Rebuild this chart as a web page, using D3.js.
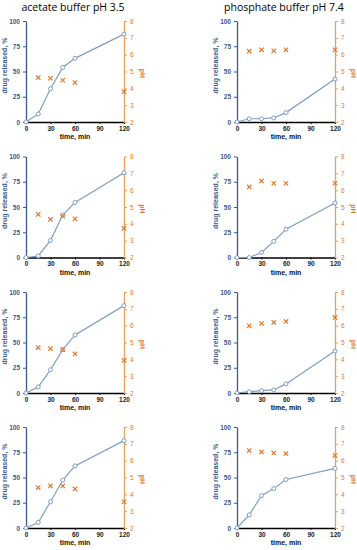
<!doctype html>
<html>
    <head>
        <script src="https://d3js.org/d3.v7.min.js"></script>
        <style>
            body { margin: 0; background: #fff; }
            text { font-family: "Liberation Sans", Arial, sans-serif; }
            .title { font-family: "Open Sans", "Liberation Sans", sans-serif; font-size: 10.5px; }
        </style>
    </head>
    <body>
        <svg id="chart" width="357" height="550"></svg>

        <script>
            var times = [0, 15, 30, 45, 60, 120];
            var phTimes = [15, 30, 45, 60, 120];
            var titles = ["acetate buffer pH 3.5", "phosphate buffer pH 7.4"];
            var xTicks = [0, 30, 60, 90, 120];
            var yTicks = [0, 25, 50, 75, 100];
            var phTicks = [2, 3, 4, 5, 6, 7, 8];

            // drug released, % (acetate column, rows 1-4)
            var acetate1 = [0, 8, 33, 54, 63, 87];
            var acetate2 = [0, 1.5, 17, 42, 54.5, 84];
            var acetate3 = [0, 6, 23, 43, 57.5, 86.5];
            var acetate4 = [0, 5.5, 26, 47.5, 61.5, 86.5];
            // drug released, % (phosphate column, rows 1-4)
            var phosphate1 = [0, 3.2, 3.2, 4, 9.3, 42.5];
            var phosphate2 = [0, 0, 5, 16, 28, 54];
            var phosphate3 = [0, 1.3, 2.3, 3, 9, 41.5];
            var phosphate4 = [0, 13, 32, 39, 48, 59];

            // pH at 15..120 min
            var acetatePh1 = [4.64, 4.6, 4.48, 4.34, 3.8];
            var acetatePh2 = [4.56, 4.26, 4.46, 4.3, 3.73];
            var acetatePh3 = [4.7, 4.64, 4.58, 4.32, 3.94];
            var acetatePh4 = [4.4, 4.5, 4.5, 4.32, 3.56];
            var phosphatePh1 = [6.21, 6.29, 6.23, 6.29, 6.29];
            var phosphatePh2 = [6.19, 6.55, 6.41, 6.41, 6.41];
            var phosphatePh3 = [5.99, 6.13, 6.19, 6.25, 6.49];
            var phosphatePh4 = [6.6, 6.52, 6.46, 6.42, 6.3];

            var panels = [
                {col: 0, row: 0, drug: acetate1, ph: acetatePh1},
                {col: 1, row: 0, drug: phosphate1, ph: phosphatePh1},
                {col: 0, row: 1, drug: acetate2, ph: acetatePh2},
                {col: 1, row: 1, drug: phosphate2, ph: phosphatePh2},
                {col: 0, row: 2, drug: acetate3, ph: acetatePh3},
                {col: 1, row: 2, drug: phosphate3, ph: phosphatePh3},
                {col: 0, row: 3, drug: acetate4, ph: acetatePh4},
                {col: 1, row: 3, drug: phosphate4, ph: phosphatePh4}
            ];

            var blue = "#3b5a8a";
            var lineBlue = "#7f9dc4";
            var orange = "#e8a060";
            var orangeMark = "#e07b2e";

            var colX = [26, 237];
            var rowY = [21, 156.5, 292, 427];
            var w = 98, h = 101;

            var svg = d3.select("#chart");

            titles.forEach(function(t, i) {
                svg.append("text").attr("class", "title")
                    .attr("x", colX[i] + 47).attr("y", 11)
                    .attr("text-anchor", "middle")
                    .attr("fill", "#000")
                    .text(t);
            });

            panels.forEach(function(p) {
                var g = svg.append("g")
                    .attr("transform", "translate(" + colX[p.col] + "," + rowY[p.row] + ")");

                var x = d3.scaleLinear().domain([0, 120]).range([0, w]);
                var y = d3.scaleLinear().domain([0, 100]).range([h, 0]);
                var yPh = d3.scaleLinear().domain([2, 8]).range([h, 0]);

                // x axis
                var xAxis = g.append("g").attr("transform", "translate(0," + h + ")")
                    .call(d3.axisBottom(x).tickValues(xTicks).tickSize(2).tickPadding(2).tickSizeOuter(0));
                xAxis.select(".domain").attr("stroke", "#000").attr("stroke-width", 1.3);
                xAxis.selectAll(".tick line").attr("stroke", "#000");
                xAxis.selectAll("text").attr("font-size", 6.5).attr("font-weight", "bold")
                    .attr("fill", "#222");

                // left axis
                var yAxis = g.append("g")
                    .call(d3.axisLeft(y).tickValues(yTicks).tickSize(3).tickSizeOuter(0));
                yAxis.select(".domain").attr("stroke", blue).attr("stroke-width", 1.3);
                yAxis.selectAll(".tick line").attr("stroke", blue);
                yAxis.selectAll("text").attr("font-size", 6.5).attr("font-weight", "bold")
                    .attr("fill", blue);

                // right axis
                var rAxis = g.append("g").attr("transform", "translate(" + w + ",0)")
                    .call(d3.axisRight(yPh).tickValues(phTicks).tickFormat(d3.format("d"))
                        .tickSize(3).tickSizeOuter(0));
                rAxis.select(".domain").attr("stroke", orange).attr("stroke-width", 1.3);
                rAxis.selectAll(".tick line").attr("stroke", orange);
                rAxis.selectAll("text").attr("font-size", 6.5).attr("fill", orangeMark);

                // axis titles
                g.append("text")
                    .attr("transform", "translate(-19," + (h / 2 - 6) + ") rotate(-90)")
                    .attr("text-anchor", "middle")
                    .attr("font-size", 7).attr("font-weight", "bold")
                    .attr("fill", blue)
                    .text("drug released, %");

                g.append("text")
                    .attr("transform", "translate(" + (w + 16) + "," + (h / 2 + 2) + ") rotate(90)")
                    .attr("text-anchor", "middle")
                    .attr("font-size", 7).attr("font-weight", "bold")
                    .attr("fill", orangeMark)
                    .text("pH");

                g.append("text")
                    .attr("x", w / 2).attr("y", h + 17)
                    .attr("text-anchor", "middle")
                    .attr("font-size", 7).attr("font-weight", "bold")
                    .attr("fill", "#111")
                    .text("time, min");

                // release line
                var pts = times.map(function(t, i) { return [t, p.drug[i]]; });
                g.append("path")
                    .datum(pts)
                    .attr("fill", "none")
                    .attr("stroke", lineBlue)
                    .attr("stroke-width", 1.2)
                    .attr("d", d3.line().x(function(d) { return x(d[0]); }).y(function(d) { return y(d[1]); }));

                g.selectAll("circle.rel")
                    .data(pts)
                    .enter()
                    .append("circle")
                        .attr("class", "rel")
                        .attr("r", 2)
                        .attr("cx", function(d) { return x(d[0]); })
                        .attr("cy", function(d) { return y(d[1]); })
                        .attr("fill", "#fff")
                        .attr("stroke", lineBlue)
                        .attr("stroke-width", 1);

                // pH crosses
                var phPts = phTimes.map(function(t, i) { return [t, p.ph[i]]; });
                g.selectAll("path.ph")
                    .data(phPts)
                    .enter()
                    .append("path")
                        .attr("class", "ph")
                        .attr("d", d3.symbol().type(d3.symbolX).size(14))
                        .attr("transform", function(d) { return "translate(" + x(d[0]) + "," + yPh(d[1]) + ")"; })
                        .attr("fill", "none")
                        .attr("stroke", orangeMark)
                        .attr("stroke-width", 1.2);
            });
        </script>
    </body>
</html>
